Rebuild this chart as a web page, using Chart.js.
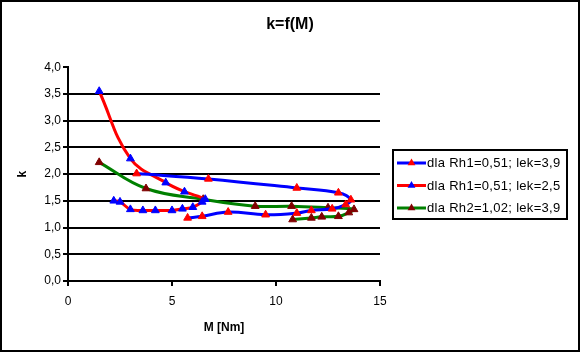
<!DOCTYPE html>
<html>
<head>
<meta charset="utf-8">
<script src="https://cdn.jsdelivr.net/npm/chart.js@4"></script>
<style>
  html, body { margin: 0; padding: 0; background: #fff; }
</style>
</head>
<body>
<canvas id="chart" width="580" height="352"></canvas>
<script>
"use strict";

// data: M [Nm] and k for each series
const seriesLabels = ["dla Rh1=0,51; lek=3,9", "dla Rh1=0,51; lek=2,5", "dla Rh2=1,02; lek=3,9"];

const m1 = [3.3, 6.75, 11.0, 13.0, 13.6, 13.35, 12.7, 11.7, 11.0, 9.5, 7.7, 6.45, 5.75];
const k1 = [2.01, 1.91, 1.74, 1.65, 1.52, 1.43, 1.35, 1.32, 1.27, 1.24, 1.29, 1.21, 1.18];

const m2 = [1.5, 3.0, 4.7, 5.6, 6.6, 6.45, 6.0, 5.5, 5.0, 4.2, 3.6, 3.0, 2.5, 2.2];
const k2 = [3.55, 2.29, 1.84, 1.67, 1.53, 1.48, 1.38, 1.35, 1.32, 1.32, 1.32, 1.34, 1.48, 1.50];

const m3 = [1.5, 3.75, 6.5, 9.0, 10.75, 12.5, 13.75, 13.5, 13.0, 12.2, 11.7, 10.8];
const k3 = [2.22, 1.73, 1.53, 1.40, 1.40, 1.37, 1.34, 1.28, 1.21, 1.20, 1.18, 1.15];

const xRange = [0, 15];
const xStep = 5;
const yRange = [0, 4];
const yStep = 0.5;

const FONT = "'Liberation Sans', Arial, sans-serif";

let toPoints = (xs, ys) => xs.map((x, i) => ({ x: x, y: ys[i] }));

let makeSet = (label, xs, ys, lineColor, markColor) => ({
  label: label,
  data: toPoints(xs, ys),
  showLine: true,
  tension: 0.4,
  borderColor: lineColor,
  borderWidth: 3,
  backgroundColor: markColor,
  pointBackgroundColor: markColor,
  pointBorderColor: markColor,
  pointBorderWidth: 1,
  pointStyle: "triangle",
  pointRadius: 4.5
});

// legend drawn by hand: line sample with the marker in the middle, in a black box
const boxLegend = {
  id: "boxLegend",
  afterDraw(chart) {
    const ctx = chart.ctx;
    const left = chart.chartArea.right + 13;
    const top = 150;
    ctx.save();
    ctx.lineWidth = 2;
    ctx.strokeStyle = "#000";
    ctx.strokeRect(left, top, 174, 69);

    chart.data.datasets.forEach((ds, i) => {
      const y = top + 13 + i * 22.5;
      ctx.beginPath();
      ctx.lineWidth = 3;
      ctx.strokeStyle = ds.borderColor;
      ctx.moveTo(left + 4, y);
      ctx.lineTo(left + 33, y);
      ctx.stroke();

      const cx = left + 18.5, r = 4.5;
      ctx.beginPath();
      ctx.fillStyle = ds.pointBackgroundColor;
      ctx.moveTo(cx, y - r);
      ctx.lineTo(cx + r * Math.sin(2 * Math.PI / 3), y + r / 2);
      ctx.lineTo(cx - r * Math.sin(2 * Math.PI / 3), y + r / 2);
      ctx.closePath();
      ctx.fill();

      ctx.fillStyle = "#000";
      ctx.font = "13px " + FONT;
      ctx.letterSpacing = "0.3px";
      ctx.textBaseline = "middle";
      ctx.textAlign = "left";
      ctx.fillText(ds.label, left + 34, y + 0.5);
      ctx.letterSpacing = "0px";
    });

    // outer frame
    ctx.lineWidth = 2;
    ctx.strokeStyle = "#000";
    ctx.strokeRect(1, 1, chart.width - 2, chart.height - 2);
    ctx.restore();
  }
};

Chart.defaults.font.family = FONT;
Chart.defaults.color = "#000";

new Chart(document.getElementById("chart"), {
  type: "scatter",
  data: {
    datasets: [
      makeSet(seriesLabels[0], m1, k1, "#0000ff", "#ff0000"),
      makeSet(seriesLabels[1], m2, k2, "#ff0000", "#0000ff"),
      makeSet(seriesLabels[2], m3, k3, "#008000", "#800000")
    ]
  },
  options: {
    responsive: false,
    animation: false,
    devicePixelRatio: 1,
    layout: { padding: 0 },
    plugins: {
      legend: { display: false },
      tooltip: { enabled: false },
      title: {
        display: true,
        text: "k=f(M)",
        color: "#000",
        font: { size: 16, weight: "bold" },
        padding: { top: 15, bottom: 33 }
      }
    },
    scales: {
      x: {
        type: "linear",
        min: xRange[0],
        max: xRange[1],
        ticks: { stepSize: xStep, color: "#000", font: { size: 12 }, padding: 8 },
        grid: { drawOnChartArea: false, tickColor: "#000", tickLength: 5, lineWidth: 2 },
        border: { color: "#000", width: 2 },
        title: {
          display: true,
          text: "M [Nm]",
          color: "#000",
          font: { size: 12, weight: "bold" },
          padding: { top: 0, bottom: 17 }
        },
        afterFit: scale => { scale.height = 71; }
      },
      y: {
        type: "linear",
        min: yRange[0],
        max: yRange[1],
        ticks: {
          stepSize: yStep,
          color: "#000",
          font: { size: 12 },
          padding: 2,
          callback: v => v.toFixed(1).replace(".", ",")
        },
        grid: {
          color: c => (c.tick && c.tick.value === yRange[1]) ? "rgba(0,0,0,0)" : "#000",
          tickColor: "#000",
          tickLength: 5,
          lineWidth: 2
        },
        border: { color: "#000", width: 2 },
        title: {
          display: true,
          text: "k",
          color: "#000",
          font: { size: 12, weight: "bold" },
          padding: { top: 15, bottom: 0 }
        },
        afterFit: scale => { scale.width = 68; }
      },
      // empty axis on the right, only keeps room for the legend box
      side: {
        type: "linear",
        position: "right",
        display: true,
        ticks: { display: false },
        grid: { display: false },
        border: { display: false },
        afterFit: scale => { scale.width = 200; }
      }
    }
  },
  plugins: [boxLegend]
});
</script>
</body>
</html>
